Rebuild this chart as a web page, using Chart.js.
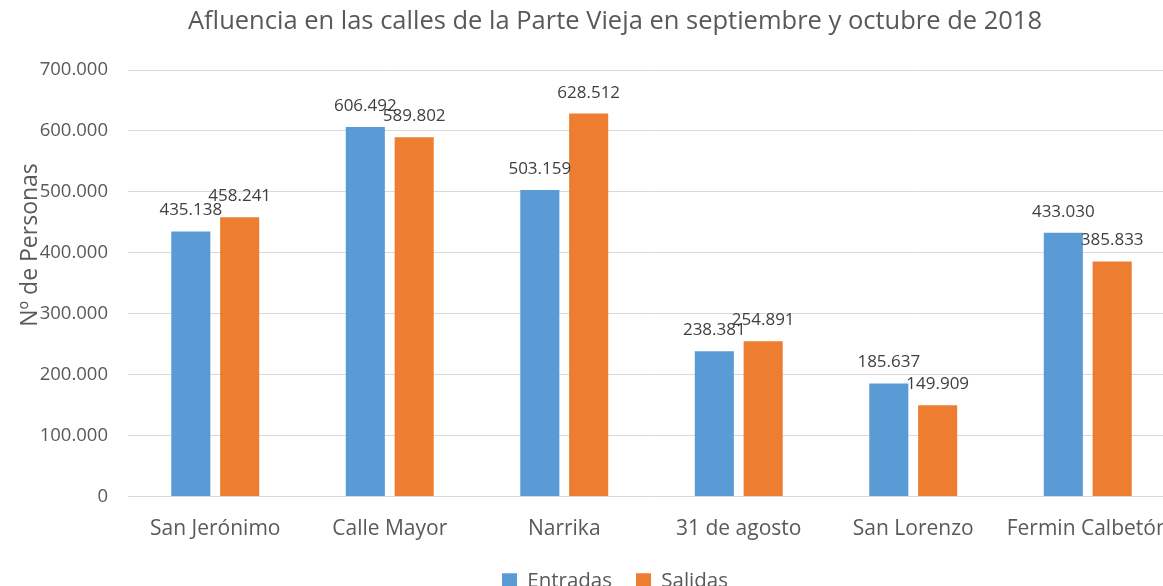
<!DOCTYPE html>
<html>
<head>
<meta charset="utf-8">
<script src="https://cdn.jsdelivr.net/npm/chart.js@4"></script>
<style>
  html, body { margin: 0; padding: 0; background: #fff; overflow: hidden; }
  #wrap { position: relative; width: 1230px; height: 601px; }
</style>
</head>
<body>
<div id="wrap"><canvas id="chart"></canvas></div>
<script>
// ---------------- Daten ----------------
const categories = ['San Jerónimo', 'Calle Mayor', 'Narrika', '31 de agosto', 'San Lorenzo', 'Fermin Calbetón'];
const entradas = [435138, 606492, 503159, 238381, 185637, 433030];
const salidas = [458241, 589802, 628512, 254891, 149909, 385833];
const seriesNames = ['Entradas', 'Salidas'];
const yTicks = [0, 100000, 200000, 300000, 400000, 500000, 600000, 700000];

const FONT = '"Open Sans", "DejaVu Sans", sans-serif';
const GREY = '#595959';

// Zahlen mit Punkt als Tausendertrenner
function fmt(v) {
  return String(v).replace(/\B(?=(\d{3})+(?!\d))/g, '.');
}

// ---------------- Datenbeschriftung + Achsentitel ----------------
const valueLabels = {
  id: 'valueLabels',
  afterDatasetsDraw(chart) {
    const ctx = chart.ctx;
    ctx.save();
    ctx.font = '17px ' + FONT;
    ctx.fillStyle = '#404040';
    ctx.textAlign = 'center';
    ctx.textBaseline = 'alphabetic';
    chart.data.datasets.forEach((ds, i) => {
      chart.getDatasetMeta(i).data.forEach((bar, j) => {
        ctx.fillText(fmt(ds.data[j]), bar.x, bar.y - 16);
      });
    });
    // y-Achsentitel (etwas oberhalb der Mitte wie im Original)
    ctx.translate(30, 245);
    ctx.rotate(-Math.PI / 2);
    ctx.font = '23px ' + FONT;
    ctx.fillStyle = GREY;
    ctx.textBaseline = 'middle';
    ctx.fillText('Nº de Personas', 0, 0);
    ctx.restore();
  }
};

new Chart(document.getElementById('chart'), {
  type: 'bar',
  data: {
    labels: categories,
    datasets: [
      { label: seriesNames[0], data: entradas, backgroundColor: '#5B9BD5', categoryPercentage: 0.56, barPercentage: 0.8 },
      { label: seriesNames[1], data: salidas, backgroundColor: '#ED7D31', categoryPercentage: 0.56, barPercentage: 0.8 }
    ]
  },
  options: {
    responsive: true,
    maintainAspectRatio: false,
    animation: false,
    layout: { padding: 0 },
    plugins: {
      title: {
        display: true,
        text: 'Afluencia en las calles de la Parte Vieja en septiembre y octubre de 2018',
        color: GREY,
        font: { family: FONT, size: 25.5, weight: 'normal' },
        padding: { top: 6, bottom: 33.4 }
      },
      legend: {
        display: true,
        position: 'bottom',
        labels: {
          color: GREY,
          font: { family: FONT, size: 20.5 },
          boxWidth: 15,
          boxHeight: 15,
          padding: 24
        }
      },
      tooltip: { enabled: false }
    },
    scales: {
      x: {
        grid: { display: false },
        border: { display: false },
        afterFit: s => { s.height = 50; },
        ticks: { color: GREY, font: { family: FONT, size: 21 }, padding: 12, maxRotation: 0, autoSkip: false }
      },
      y: {
        min: 0,
        max: 700000,
        afterBuildTicks: s => { s.ticks = yTicks.map(v => ({ value: v })); },
        afterFit: s => { s.width = 128; },
        grid: { color: '#d9d9d9', lineWidth: 1, drawTicks: false },
        border: { display: false },
        ticks: { color: GREY, font: { family: FONT, size: 18.5 }, padding: 20, callback: v => fmt(v) }
      },
      y2: {
        position: 'right',
        display: true,
        grid: { display: false },
        border: { display: false },
        ticks: { display: false },
        afterFit: s => { s.width = 55; }
      }
    }
  },
  plugins: [valueLabels]
});
</script>
</body>
</html>
